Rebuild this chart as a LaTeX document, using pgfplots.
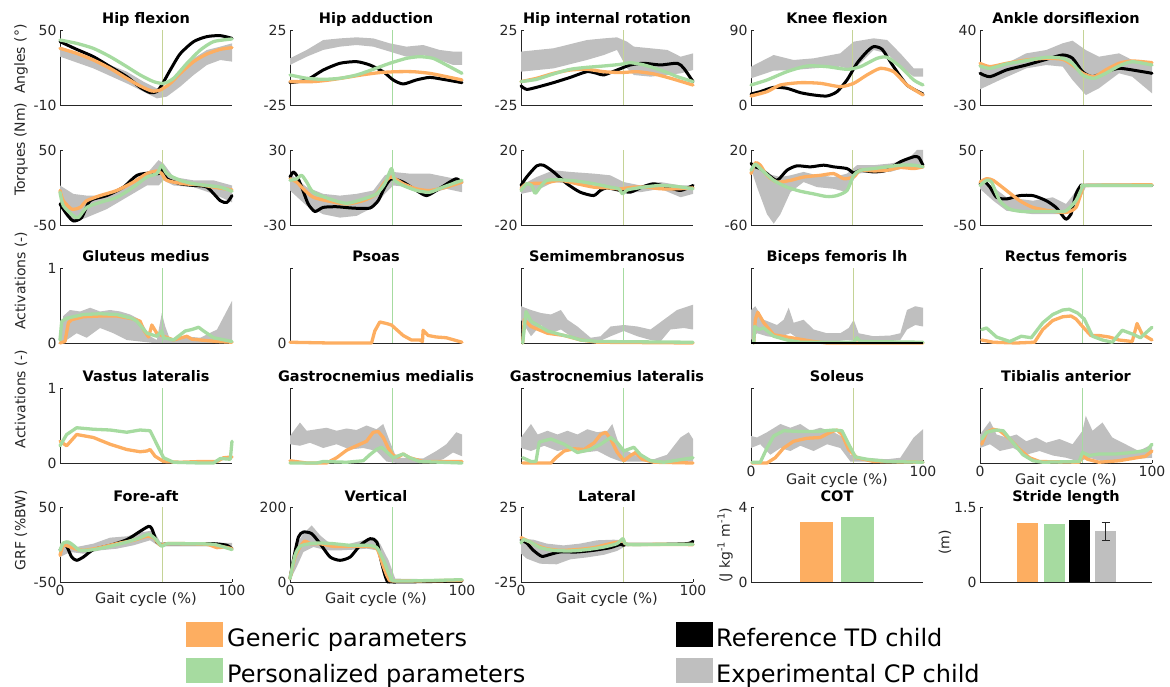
\documentclass[border=0pt]{standalone}
\usepackage{fontspec}
\setmainfont{DejaVu Sans}
\usepackage{pgfplots}
\pgfplotsset{compat=1.18}
\definecolor{cor}{RGB}{253,174,97}
\definecolor{cgr}{RGB}{166,219,160}
\definecolor{cgy}{RGB}{191,191,191}
\definecolor{axc}{RGB}{38,38,38}
\definecolor{tol}{RGB}{196,211,150}
\newcommand{\tlf}{\fontsize{14}{16}\selectfont}
\newcommand{\ttf}{\fontsize{14.5}{17}\selectfont\bfseries}
\pgfplotsset{
 pan/.style={scale only axis, width=172pt, height=75pt, xmin=0, xmax=100,
   axis lines=left, axis line style={-, draw=axc, line width=0.7pt}, clip=false,
   tick align=inside, major tick length=3pt, tick style={draw=axc, line width=0.7pt},
   xtick=\empty, tick label style={font=\tlf, text=axc},
   /pgf/number format/assume math mode=true,
   title style={at={(axis description cs:0.5,1)}, anchor=base, yshift=0pt, font=\ttf},
   ylabel style={font=\tlf, text=axc, anchor=center}},
 bot/.style={xtick={0,100}, xlabel={Gait cycle (\%)},
   xlabel style={at={(axis description cs:0.5,0)}, anchor=north, yshift=-7pt, font=\fontsize{14.5}{17}\selectfont, text=axc}},
 blk/.style={black, line width=3pt, line join=round, line cap=round},
 org/.style={cor, line width=3.3pt, line join=round, line cap=round},
 grn/.style={cgr, line width=3.3pt, line join=round, line cap=round},
 sm/.style={smooth, tension=0.4},
 band/.style={fill=cgy, draw=none},
 vl/.style={tol, line width=1.4pt},
 vg/.style={cgr, line width=1.4pt},
}
\begin{document}
\begin{tikzpicture}[x=1pt,y=1pt]
\useasboundingbox (0,0) rectangle (1170,686);
% ===== Row 1 =====
\begin{axis}[pan, at={(60pt,656pt)}, anchor=north west, ymin=-10, ymax=50, ytick={-10,50}, title={Hip flexion},
  ylabel={Angles (°)}, ylabel style={at={(axis description cs:-0.227,0.61)}}]
\addplot[band] coordinates {(0,36.7)(19.4,27.3)(38.8,16.7)(48.5,8.7)(56.3,3.3)(62.1,5.2)(69.9,18)(77.7,27.3)(85.4,34)(93.2,36.7)(100,39.3)(100,24.7)(93.2,26)(85.4,22)(77.7,14)(69.9,4.7)(62.1,-3.3)(56.3,-4.7)(48.5,0.7)(38.8,7.3)(19.4,19.3)(0,28.7)};
\addplot[vl] coordinates {(59.5,-10)(59.5,50)};
\addplot[blk,sm] coordinates {(0,40.7)(9.7,34.5)(19.4,28.7)(29.1,20.7)(38.8,12.7)(46.6,4.1)(52.4,-0.1)(56.3,0.7)(59.2,6)(64.1,18)(69.9,31)(77.7,40.7)(85.4,44.7)(93.2,45.5)(100,43.3)};
\addplot[org,sm] coordinates {(0,35.3)(9.7,31.3)(19.4,26)(29.1,19.3)(38.8,11.3)(46.6,5.2)(53.4,1.2)(58.3,2)(64.1,7.3)(69.9,15.3)(77.7,24.7)(85.4,30.8)(93.2,34.5)(100,35.9)};
\addplot[grn,sm] coordinates {(0,42)(9.7,39.3)(19.4,35.3)(29.1,28.7)(38.8,20.7)(46.6,14)(54.4,8.7)(60.2,7.3)(66,11.3)(73.8,23.3)(81.6,34)(89.3,40.7)(100,42.8)};
\end{axis}
\begin{axis}[pan, at={(290pt,656pt)}, anchor=north west, ymin=-25, ymax=25, ytick={-25,25}, title={Hip adduction}]
\addplot[band] coordinates {(0,6.1)(9.7,11.7)(19.3,18.3)(29,19.4)(38.7,20.1)(48.4,19.4)(58,16.1)(67.7,13.9)(77.4,15)(87,11.7)(94.8,10.6)(100,10.6)(100,1.7)(94.8,1.7)(87,5)(77.4,8.3)(67.7,7.2)(58,10.6)(48.4,13.9)(38.7,15)(29,13.9)(19.3,11.7)(9.7,7.2)(0,1.7)};
\addplot[vg] coordinates {(59.5,-25)(59.5,25)};
\addplot[blk,sm] coordinates {(0,-10.1)(9.7,-8.3)(19.3,-1.7)(29,2.8)(38.7,3.9)(46.4,1.7)(54.2,-2.8)(60,-8.3)(65.8,-11)(73.5,-8.3)(81.2,-6.6)(89,-7.9)(100,-10.1)};
\addplot[org,sm] coordinates {(0,-9.4)(13.5,-9.4)(23.2,-8.3)(32.9,-6.6)(42.6,-4.8)(52.2,-3.4)(61.9,-2.8)(71.6,-2.8)(81.2,-3.9)(90.9,-6.1)(100,-8.3)};
\addplot[grn,sm] coordinates {(0,-5)(9.7,-7.2)(19.3,-7.9)(29,-7.2)(38.7,-5)(48.4,-1.2)(58,2.8)(67.7,6.1)(75.4,7.2)(83.2,6.1)(90.9,1.7)(100,-3.9)};
\end{axis}
\begin{axis}[pan, at={(521pt,656pt)}, anchor=north west, ymin=-25, ymax=25, ytick={-25,25}, title={Hip internal rotation}]
\addplot[band] coordinates {(0,10.6)(18.9,12.8)(38.3,18.3)(48.1,19.4)(55.8,20.1)(61.7,17.2)(65.6,13.9)(75.3,12.8)(85,11.7)(92.8,7.2)(100,9.4)(100,-1.7)(92.8,-3.9)(85,-5)(75.3,-6.1)(65.6,-5)(61.7,-0.6)(55.8,11.7)(48.1,8.3)(38.3,5)(18.9,-0.6)(0,-2.8)};
\addplot[vl] coordinates {(59.5,-25)(59.5,25)};
\addplot[blk,sm] coordinates {(0,-12.3)(3.3,-14.6)(9.1,-13.2)(18.9,-10.1)(28.6,-6.6)(38.3,-2.8)(44.2,-3.9)(48.1,-5)(55.8,-1.7)(63.6,1.7)(71.4,2.8)(81.1,1.7)(90.9,2.8)(94.7,-0.6)(100,-9.4)};
\addplot[org,sm] coordinates {(0,-9.4)(9.1,-7.2)(18.9,-3.9)(28.6,-1.7)(38.3,-1.2)(48.1,-2.8)(57.8,-3.4)(67.5,-2.8)(77.2,-4.3)(87,-7.2)(100,-11.7)};
\addplot[grn,sm] coordinates {(0,-9.4)(9.1,-7.9)(18.9,-4.3)(28.6,-1.2)(38.3,0.1)(48.1,1)(57.8,2.1)(63.6,3.2)(71.4,1.7)(81.1,-1.7)(90.9,-6.1)(100,-9.4)};
\end{axis}
\begin{axis}[pan, at={(751pt,656pt)}, anchor=north west, ymin=0, ymax=90, ytick={0,90}, title={Knee flexion}]
\addplot[band] coordinates {(0,46)(13.2,60)(24.8,54)(36.4,56)(51.9,62)(59.7,76)(71.3,80)(79.1,78)(86.8,62)(94.6,44)(100,44)(100,34)(94.6,34)(86.8,46)(79.1,62)(71.3,66)(59.7,42)(51.9,46)(36.4,44)(24.8,42)(13.2,41.2)(0,32)};
\addplot[vl] coordinates {(59.1,0)(59.1,90)};
\addplot[blk,sm] coordinates {(0,13.2)(5.4,16)(13.2,21.2)(20.9,20)(28.7,14.8)(36.4,12)(44.2,10.8)(50,16)(55.8,30)(61.6,50)(67.4,64)(71.3,70)(76.2,66.8)(82.9,46)(90.7,24)(100,13.2)};
\addplot[org,sm] coordinates {(0,10.8)(9.3,16)(17.1,24)(28.7,26.8)(40.3,26)(51.9,22)(59.7,26)(67.4,36)(75.2,44)(82.9,40)(90.7,24)(100,12)};
\addplot[grn,sm] coordinates {(0,24)(9.3,30)(20.9,40)(32.6,46.8)(44.2,46)(55.8,42.8)(63.6,46)(73.3,56)(79.1,57.2)(86.8,46)(94.6,30)(100,24)};
\end{axis}
\begin{axis}[pan, at={(980pt,656pt)}, anchor=north west, ymin=-30, ymax=40, ytick={-30,40}, title={Ankle dorsiflexion}]
\addplot[band] coordinates {(0,5.8)(11.5,5.8)(26.9,18.2)(38.5,21.3)(48.1,27.6)(53.8,30)(61.5,21.3)(69.2,15.1)(80.8,18.2)(88.5,12)(100,10.4)(100,-19.1)(88.5,-3.6)(80.8,-0.4)(69.2,-14.4)(61.5,-20.7)(53.8,-6.7)(48.1,5.8)(38.5,7.3)(26.9,4.2)(11.5,-6.7)(0,-15.4)};
\addplot[vl] coordinates {(60,-30)(60,40)};
\addplot[blk,sm] coordinates {(0,-0.4)(5.8,-3.6)(15.4,2.7)(26.9,7.3)(38.5,12.6)(48.1,16.7)(53.8,13.6)(59.6,1.1)(65.4,-3.6)(73.1,1.1)(80.8,4.2)(88.5,2.7)(100,-0.4)};
\addplot[org,sm] coordinates {(0,8.9)(5.8,5.8)(15.4,8.9)(26.9,12)(38.5,13.6)(48.1,12.6)(53.8,7.3)(59.6,-0.4)(66.3,-3.6)(73.1,2.7)(80.8,8.9)(88.5,11.1)(100,9.5)};
\addplot[grn,sm] coordinates {(0,6.4)(5.8,4.2)(15.4,8.3)(26.9,11.4)(38.5,14.5)(48.1,13.6)(53.8,8.9)(59.6,-2)(66.3,-5.1)(73.1,-0.4)(80.8,6.4)(88.5,10.4)(100,7.3)};
\end{axis}
% ===== Row 2 =====
\begin{axis}[pan, at={(60pt,536pt)}, anchor=north west, ymin=-50, ymax=50, ytick={-50,50},
  ylabel={Torques (Nm)}, ylabel style={at={(axis description cs:-0.227,1.01)}}]
\addplot[band] coordinates {(0,2.7)(7.8,-8.6)(15.5,-10.8)(27.2,-10.8)(38.8,0.5)(50.5,18.5)(57.3,36.5)(60.2,32)(66,14)(77.7,9.5)(89.3,9.5)(100,2.7)(100,-19.8)(89.3,-8.6)(77.7,0.5)(66,2.7)(60.2,9.5)(57.3,2.7)(50.5,2.7)(38.8,-13.1)(27.2,-28.8)(15.5,-40)(7.8,-46.8)(0,-17.6)};
\addplot[vl] coordinates {(59.5,-50)(59.5,50)};
\addplot[blk,sm] coordinates {(0,-22)(3.9,-35.6)(7.8,-44.6)(12.6,-40)(17.5,-17.6)(27.2,-10.8)(36.9,0.5)(44.7,16.2)(52.4,19.4)(57.3,18.5)(59.2,25.2)(62.1,11.7)(69.9,5)(77.7,2.7)(85.4,0.5)(93.2,-17.6)(97.1,-19.8)(100,-10.8)};
\addplot[org,sm] coordinates {(0,-4)(1.9,-17.6)(6.8,-28.8)(11.7,-26.6)(15.5,-17.6)(23.3,-10.8)(33,-4)(42.7,7.2)(50.5,18.5)(56.3,22)(59.2,18.5)(62.1,9.5)(71.8,5)(81.6,3.6)(89.3,0.5)(100,-3.2)};
\addplot[grn,sm] coordinates {(0,-6.3)(1.9,-24.3)(7.8,-37.8)(10.7,-40)(15.5,-26.6)(23.3,-19.8)(33,-13.1)(42.7,0.5)(50.5,14)(56.3,18.5)(59.2,29.7)(62.1,18.5)(69.9,9.5)(77.7,5)(85.4,2.7)(93.2,0.5)(100,-5)};
\end{axis}
\begin{axis}[pan, at={(290pt,536pt)}, anchor=north west, ymin=-30, ymax=30, ytick={-30,30}]
\addplot[band] coordinates {(0,11.1)(9.7,0.3)(19.3,-5.1)(29,-6.5)(38.7,-5.1)(48.4,-2.4)(55.1,9.7)(60,12.4)(69.6,11.1)(81.2,11.1)(90.9,8.4)(100,5.7)(100,-3.8)(90.9,-1.1)(81.2,-5.1)(69.6,0.3)(60,1.6)(55.1,-5.1)(48.4,-15.9)(38.7,-22.7)(29,-24.1)(19.3,-21.4)(9.7,-14.6)(0,-2.4)};
\addplot[vg] coordinates {(59.5,-30)(59.5,30)};
\addplot[blk,sm] coordinates {(0,8.4)(1.9,12.4)(3.9,9.7)(6.8,0.3)(10.6,-13.2)(14.5,-19.2)(19.3,-15.9)(27.1,-15.4)(36.8,-16.5)(46.4,-16.5)(51.3,-10.5)(55.1,0.3)(59,7)(65.8,4.3)(73.5,-2.4)(79.3,-6.5)(85.1,-2.4)(92.8,4.3)(96.7,7)(100,4.3)};
\addplot[org,sm] coordinates {(0,7)(3.9,4.3)(7.7,-1.1)(13.5,-7.8)(23.2,-11.1)(32.9,-13.2)(42.6,-10.5)(50.3,-5.1)(55.1,4.3)(59,8.4)(65.8,3)(73.5,-1.1)(81.2,-2.4)(90.9,0.3)(100,4.3)};
\addplot[grn,sm] coordinates {(0,5.7)(3.9,7)(6.8,9.7)(9.7,4.3)(13.5,-3.8)(23.2,-9.2)(32.9,-12.7)(42.6,-9.2)(50.3,-5.1)(55.1,3)(59,15.1)(60.9,5.7)(65.8,1.6)(73.5,-2.4)(81.2,-3.8)(89,0.3)(100,5.7)};
\end{axis}
\begin{axis}[pan, at={(521pt,536pt)}, anchor=north west, ymin=-20, ymax=20, ytick={-20,20}]
\addplot[band] coordinates {(0,1.1)(9.1,5.6)(18.9,9.2)(28.6,8.3)(42.2,7.4)(51.9,6.5)(59.7,2.9)(69.5,1.1)(81.1,2.9)(92.8,1.1)(100,1.1)(100,-3.4)(92.8,-5.2)(81.1,-0.7)(69.5,-2.5)(59.7,-2.5)(51.9,0.2)(42.2,1.1)(28.6,2)(18.9,2.9)(9.1,-1.6)(0,-3.4)};
\addplot[vl] coordinates {(59.5,-20)(59.5,20)};
\addplot[blk,sm] coordinates {(0,1.1)(3.3,5.6)(9.1,11.5)(13,11.9)(18.9,8.3)(26.7,2)(34.4,-2.5)(42.2,-4.3)(46.1,-1.6)(50,-0.2)(57.8,-1.6)(63.6,-2.5)(70.4,0.2)(77.2,2)(85,0.2)(92.8,-1.6)(100,1.1)};
\addplot[org,sm] coordinates {(0,-0.7)(3.3,2)(13,2.3)(22.8,3.8)(32.5,2)(42.2,0.2)(50,-0.2)(57.8,-0.7)(65.6,0.2)(73.3,0.2)(81.1,-0.7)(90.9,-0.7)(100,-0.2)};
\addplot[grn,sm] coordinates {(0,-1.6)(3.3,2)(6.2,1.1)(8.2,-3.1)(11.1,0.2)(15,3.8)(22.8,4.1)(32.5,3.4)(42.2,2)(51.9,0.2)(56.8,-0.7)(59.1,-3.4)(61.7,-1.3)(71.4,0.2)(81.1,1.1)(90.9,0.5)(100,-0.7)};
\end{axis}
\begin{axis}[pan, at={(751pt,536pt)}, anchor=north west, ymin=-60, ymax=20, ytick={-60,20}]
\addplot[band] coordinates {(0,5.6)(3.5,2)(9.3,-5.2)(13.2,-7)(17.1,-8.8)(22.9,-7)(30.6,-3.4)(38.4,-7)(48.1,-8.8)(55.8,-5.2)(61.6,3.8)(71.3,3.8)(81,5.6)(90.7,9.2)(96.5,20)(100,20)(100,0.2)(96.5,2)(90.7,2)(81,-3.4)(71.3,-3.4)(61.6,-5.2)(55.8,-25)(48.1,-21.4)(38.4,-19.6)(30.6,-14.2)(22.9,-25)(17.1,-48.5)(13.2,-58.6)(9.3,-48.5)(3.5,-19.6)(0,0.2)};
\addplot[vl] coordinates {(59.1,-60)(59.1,20)};
\addplot[blk,sm] coordinates {(0,5.6)(2.5,2)(5.4,0.2)(9.3,-5.2)(15.1,-12.4)(20.9,-1.6)(26.7,3.1)(34.5,2)(42.2,3.8)(48.1,2)(55.8,0.2)(59.7,-4.5)(63.6,-1.6)(71.3,-3.4)(79.1,-1.6)(86.8,7.4)(94.6,12.8)(97.5,12.1)(100,3.8)};
\addplot[org,sm] coordinates {(0,-5.2)(2.5,6.3)(5.4,3.8)(9.3,-7)(15.1,-14.2)(22.9,-12.4)(30.6,-8.8)(40.3,-7)(48.1,-5.2)(53.9,-10.6)(59.7,-8.8)(63.6,-1.6)(71.3,-2.3)(79.1,-1.6)(86.8,1.3)(94.6,0.2)(100,2)};
\addplot[grn,sm] coordinates {(0,-1.6)(2.5,4.9)(5.4,0.2)(13.2,-12.4)(20.9,-19.6)(28.7,-24)(36.4,-26.8)(44.2,-29.7)(50,-28.6)(55.8,-23.2)(59.7,-7)(63.6,-1.6)(71.3,0.2)(79.1,2)(86.8,3.8)(94.6,3.8)(100,2)};
\end{axis}
\begin{axis}[pan, at={(980pt,536pt)}, anchor=north west, ymin=-50, ymax=50, ytick={-50,50}]
\addplot[band] coordinates {(0,7.2)(7.7,0.5)(15.4,-13.1)(30.8,-17.6)(42.3,-13.1)(50,-22)(57.7,0.5)(61.5,5)(100,5)(100,0.5)(61.5,0.5)(57.7,-17.6)(50,-35.6)(42.3,-35.6)(30.8,-35.6)(15.4,-31)(7.7,-17.6)(0,-1.8)};
\addplot[vl] coordinates {(60,-50)(60,50)};
\addplot[blk,sm] coordinates {(0,5)(2.9,7.2)(5.8,0.5)(9.6,-13.1)(15.4,-15.3)(23.1,-10.8)(30.8,-10.8)(38.5,-17.6)(44.2,-26.6)(48.1,-37.8)(50,-42.3)(52.9,-35.6)(55.8,-8.6)(58.7,2.7)(61.5,2.7)(100,2.7)};
\addplot[org,sm] coordinates {(0,7.2)(3.8,11.7)(7.7,9.5)(15.4,-4)(23.1,-17.6)(30.8,-26.6)(40.4,-31)(50,-33.3)(55.8,-26.6)(59.6,-1.8)(61.5,2.7)(100,3.6)};
\addplot[grn,sm] coordinates {(0,2.7)(3.8,9.5)(6.7,7.2)(11.5,-17.6)(17.3,-28.8)(25,-32)(34.6,-32)(44.2,-32)(50,-31)(55.8,-17.6)(59.6,0.5)(61.5,2.7)(100,2.7)};
\end{axis}
% ===== Row 3 =====
\begin{axis}[pan, at={(60pt,418pt)}, anchor=north west, ymin=0, ymax=1, ytick={0,1}, title={Gluteus medius},
  ylabel={Activations (-)}, ylabel style={at={(axis description cs:-0.227,0.83)}}]
\addplot[band] coordinates {(0,0.05)(1.9,0.36)(5.8,0.44)(11.7,0.42)(17.5,0.47)(23.3,0.42)(29.1,0.44)(35,0.42)(40.8,0.38)(46.6,0.31)(52.4,0.09)(56.3,0.04)(59.2,0.4)(61.2,0.22)(64.1,0.04)(71.8,0.09)(81.6,0.07)(91.3,0.18)(100,0.56)(100,0)(54.4,0)(46.6,0.02)(38.8,0.04)(31.1,0.13)(23.3,0.2)(15.5,0.07)(9.7,0.13)(3.9,0.04)(0,0)};
\addplot[vg] coordinates {(59.5,0)(59.5,1)};
\addplot[org] coordinates {(0,0)(2.9,0.02)(4.9,0.27)(6.8,0.31)(13.6,0.35)(23.3,0.36)(33,0.36)(42.7,0.32)(46.6,0.29)(48.5,0.18)(51.5,0.08)(53.4,0.24)(56.3,0.13)(60.2,0.09)(66,0.04)(73.8,0.09)(76.7,0.05)(81.6,0.04)(91.3,0.02)(100,0.01)};
\addplot[grn] coordinates {(0,0.04)(1,0.29)(3.9,0.33)(13.6,0.38)(23.3,0.39)(33,0.38)(41.7,0.33)(44.7,0.29)(50.5,0.13)(56.3,0.09)(59.2,0.16)(60.2,0.07)(66,0.04)(72.8,0.16)(76.7,0.18)(80.6,0.21)(83.5,0.16)(89.3,0.07)(100,0.02)};
\end{axis}
\begin{axis}[pan, at={(290pt,418pt)}, anchor=north west, ymin=0, ymax=1, ytick={0,1}, yticklabels={0,{}}, title={Psoas}]
\addplot[vg] coordinates {(59.5,0)(59.5,1)};
\addplot[org] coordinates {(0,0.01)(23.2,0)(47.4,0)(49.3,0.16)(52.2,0.28)(56.1,0.26)(59,0.24)(61.9,0.18)(65.8,0.1)(70.6,0.04)(75.4,0.04)(77,0.02)(77.4,0.17)(80.3,0.1)(85.1,0.08)(90.9,0.07)(100,0.01)};
\end{axis}
\begin{axis}[pan, at={(521pt,418pt)}, anchor=north west, ymin=0, ymax=1, ytick={0,1}, yticklabels={}, title={Semimembranosus}]
\addplot[band] coordinates {(0,0.49)(5.8,0.44)(11.6,0.4)(17.4,0.38)(23.2,0.44)(27,0.31)(32.8,0.22)(40.5,0.07)(46.3,0.09)(52.1,0.22)(59.8,0.24)(67.6,0.22)(75.3,0.18)(83,0.31)(90.7,0.44)(100,0.51)(100,0.18)(94.6,0.2)(86.9,0.18)(81.1,0.02)(75.3,0.04)(67.6,0.09)(59.8,0.16)(52.1,0.09)(44.4,0.01)(36.7,0.02)(29,0.09)(23.2,0.18)(17.4,0.13)(11.6,0.24)(5.8,0.09)(0,0.31)};
\addplot[vg] coordinates {(59.5,0)(59.5,1)};
\addplot[org] coordinates {(1,0)(1.9,0.31)(5.8,0.22)(15.4,0.13)(25.1,0.1)(34.7,0.04)(44.4,0.01)(100,0)};
\addplot[grn] coordinates {(1,0)(2.9,0.42)(5.8,0.29)(15.4,0.16)(25.1,0.1)(29,0.08)(34.7,0.04)(44.4,0.02)(100,0.01)};
\end{axis}
\begin{axis}[pan, at={(751pt,418pt)}, anchor=north west, ymin=0, ymax=1, ytick={0,1}, yticklabels={}, title={Biceps femoris lh}]
\addplot[band] coordinates {(0,0.44)(2.5,0.49)(7.4,0.31)(15.1,0.24)(19,0.31)(21.9,0.47)(24.8,0.27)(30.6,0.31)(36.4,0.18)(44.2,0.13)(51.9,0.13)(56.8,0.2)(59.7,0.31)(62.6,0.13)(71.3,0.09)(81,0.1)(86.8,0.13)(90.7,0.44)(95.5,0.49)(100,0.47)(100,0.22)(95.5,0.24)(90.7,0.18)(86.8,0.04)(79.1,0.02)(63.6,0.02)(55.8,0.04)(48.1,0.02)(38.4,0.01)(28.7,0.04)(22.9,0.13)(15.1,0.07)(9.3,0.09)(3.5,0.13)(0,0.04)};
\addplot[vl] coordinates {(59.5,0)(59.5,1)};
\addplot[org] coordinates {(1.6,0)(2.5,0.31)(3.9,0.41)(7.4,0.27)(13.2,0.11)(20.9,0.08)(28.7,0.05)(36.4,0.02)(44.2,0)(100,0)};
\addplot[grn] coordinates {(1.6,0)(2.1,0.22)(4.5,0.18)(7.4,0.2)(13.2,0.09)(20.9,0.04)(28.7,0.01)(59.7,0.01)(61.6,0.07)(63.6,0.02)(100,0.01)};
\addplot[black, line width=1.2pt] coordinates {(0,0)(100,0)};
\end{axis}
\begin{axis}[pan, at={(980pt,418pt)}, anchor=north west, ymin=0, ymax=1, ytick={0,1}, yticklabels={}, title={Rectus femoris}]
\addplot[vg] coordinates {(59.5,0)(59.5,1)};
\addplot[org] coordinates {(1,0.04)(7.7,0.01)(21.2,0)(31.7,0.01)(36.5,0.18)(42.3,0.3)(48.1,0.35)(52.9,0.36)(55.8,0.32)(59.6,0.22)(64.4,0.1)(69.2,0.1)(75,0.08)(80.8,0.04)(88.5,0.02)(91.3,0.26)(94.2,0.12)(100,0.04)};
\addplot[grn] coordinates {(1,0.18)(3.8,0.2)(9.6,0.08)(17.3,0.02)(24,0.09)(29.8,0.07)(36.5,0.27)(42.3,0.38)(48.1,0.44)(51.9,0.45)(56.7,0.4)(60.6,0.32)(65.4,0.09)(71.2,0.04)(76.9,0.01)(82.7,0.17)(88.5,0.12)(93.3,0.07)(100,0.21)};
\end{axis}
% ===== Row 4 =====
\begin{axis}[pan, at={(60pt,298pt)}, anchor=north west, ymin=0, ymax=1, ytick={0,1}, title={Vastus lateralis},
  ylabel={Activations (-)}, ylabel style={at={(axis description cs:-0.227,0.85)}}]
\addplot[vg] coordinates {(59.5,0)(59.5,1)};
\addplot[org] coordinates {(0,0.29)(3.9,0.23)(9.7,0.38)(19.4,0.34)(29.1,0.25)(38.8,0.18)(46.6,0.15)(50.5,0.16)(52.4,0.18)(55.3,0.09)(60.2,0.02)(69.9,0.01)(81.6,0.02)(91.3,0.02)(95.1,0.07)(100,0.08)};
\addplot[grn] coordinates {(0,0.23)(3.9,0.38)(9.7,0.47)(19.4,0.45)(29.1,0.44)(38.8,0.41)(46.6,0.44)(52.4,0.43)(56.3,0.25)(60.2,0.07)(66,0.01)(81.6,0)(89.3,0)(93.2,0.06)(99,0.05)(100,0.29)};
\end{axis}
\begin{axis}[pan, at={(290pt,298pt)}, anchor=north west, ymin=0, ymax=1, ytick={0,1}, yticklabels={}, title={Gastrocnemius medialis}]
\addplot[band] coordinates {(0,0.36)(5.8,0.54)(9.7,0.43)(15.5,0.45)(21.3,0.47)(27.1,0.43)(32.9,0.46)(38.7,0.44)(44.5,0.5)(50.3,0.45)(54.2,0.52)(58,0.29)(61.9,0.07)(69.6,0.07)(77.4,0.06)(85.1,0.16)(90.9,0.25)(96.7,0.41)(100,0.38)(100,0.09)(94.8,0.14)(89,0.05)(81.2,0)(61.9,0)(56.1,0.02)(50.3,0.16)(42.6,0.2)(34.8,0.18)(27.1,0.25)(19.3,0.2)(11.6,0.27)(5.8,0.23)(0,0.25)};
\addplot[vg] coordinates {(59.5,0)(59.5,1)};
\addplot[org] coordinates {(0,0.03)(9.7,0)(21.3,0)(27.1,0.07)(32.9,0.17)(38.7,0.23)(44.5,0.29)(48.4,0.41)(51.3,0.42)(54.2,0.34)(57.1,0.2)(60,0.1)(62.9,0.08)(65.8,0.12)(69.6,0.07)(77.4,0.02)(100,0.02)};
\addplot[grn] coordinates {(0,0)(15.5,0)(19.3,0.02)(32.9,0.01)(42.6,0.03)(46.4,0.11)(50.3,0.18)(53.2,0.21)(56.1,0.15)(60,0.07)(65.8,0.12)(69.6,0.07)(75.4,0.02)(100,0)};
\end{axis}
\begin{axis}[pan, at={(521pt,298pt)}, anchor=north west, ymin=0, ymax=1, ytick={0,1}, yticklabels={}, title={Gastrocnemius lateralis}]
\addplot[band] coordinates {(0,0.34)(5.8,0.52)(9.7,0.38)(15.4,0.43)(21.2,0.38)(27,0.43)(32.8,0.38)(38.6,0.45)(44.4,0.41)(50.2,0.43)(53.1,0.52)(56.9,0.25)(61.8,0.16)(69.5,0.07)(77.2,0.05)(84.9,0.11)(92.7,0.34)(97.5,0.41)(100,0.32)(100,0.02)(57.9,0.02)(52.1,0.07)(44.4,0.16)(36.7,0.14)(29,0.2)(21.2,0.16)(13.5,0.23)(5.8,0.16)(0,0.2)};
\addplot[vg] coordinates {(59.5,0)(59.5,1)};
\addplot[org] coordinates {(1,0)(17.4,0)(20.3,0.07)(25.1,0.16)(30.9,0.19)(36.7,0.18)(42.5,0.27)(46.3,0.38)(49.2,0.41)(52.1,0.32)(56,0.14)(59.8,0.03)(63.7,0.1)(66.6,0.14)(70.5,0.05)(77.2,0.01)(100,0)};
\addplot[grn] coordinates {(1,0.07)(5.8,0.02)(8.7,0.02)(10.6,0.28)(17.4,0.32)(25.1,0.25)(32.8,0.14)(40.5,0.18)(46.3,0.25)(52.1,0.34)(56,0.27)(59.8,0.16)(65.6,0.21)(69.5,0.11)(75.3,0.03)(83,0.01)(100,0.07)};
\end{axis}
\begin{axis}[pan, bot, at={(751pt,298pt)}, anchor=north west, ymin=0, ymax=1, ytick={0,1}, yticklabels={}, title={Soleus}]
\addplot[band] coordinates {(0,0.36)(3.5,0.34)(9.3,0.41)(17.1,0.52)(22.9,0.47)(28.7,0.52)(34.5,0.43)(40.3,0.47)(48.1,0.41)(53.9,0.34)(57.8,0.11)(63.6,0.07)(79.1,0.05)(86.8,0.07)(94.6,0.34)(100,0.45)(100,0.01)(57.8,0.02)(51.9,0.2)(44.2,0.25)(36.4,0.16)(28.7,0.23)(22.9,0.16)(17.1,0.2)(11.2,0.11)(5.4,0.25)(0,0.2)};
\addplot[vl] coordinates {(59.5,0)(59.5,1)};
\addplot[org] coordinates {(0.6,0)(9.3,0)(14.1,0.07)(19,0.2)(24.8,0.29)(32.6,0.33)(40.3,0.34)(46.1,0.41)(50,0.44)(52.9,0.38)(56.8,0.18)(61.6,0.07)(71.3,0.02)(100,0.01)};
\addplot[grn] coordinates {(0.6,0.01)(5.4,0.01)(9.3,0.2)(13.2,0.36)(19,0.43)(28.7,0.42)(38.4,0.42)(48.1,0.44)(52.9,0.43)(56.8,0.25)(60.7,0.08)(67.4,0.05)(79.1,0.02)(100,0.01)};
\end{axis}
\begin{axis}[pan, bot, at={(980pt,298pt)}, anchor=north west, ymin=0, ymax=1, ytick={0,1}, yticklabels={}, title={Tibialis anterior}]
\addplot[band] coordinates {(0,0.38)(5.8,0.56)(9.6,0.38)(15.4,0.34)(21.2,0.38)(26.9,0.29)(32.7,0.34)(38.5,0.27)(46.2,0.32)(53.8,0.25)(59.6,0.43)(61.5,0.63)(65.4,0.43)(71.2,0.54)(76.9,0.34)(84.6,0.25)(92.3,0.16)(100,0.25)(100,0.07)(88.5,0.05)(80.8,0.02)(71.2,0.02)(63.5,0.07)(57.7,0.02)(50,0.07)(42.3,0.1)(34.6,0.16)(26.9,0.11)(19.2,0.2)(11.5,0.16)(5.8,0.25)(0,0.2)};
\addplot[vg] coordinates {(59.5,0)(59.5,1)};
\addplot[org] coordinates {(1,0.25)(3.8,0.41)(7.7,0.45)(11.5,0.43)(17.3,0.32)(23.1,0.18)(28.8,0.07)(34.6,0.02)(57.7,0.01)(59.6,0.1)(62.5,0.05)(69.2,0.01)(80.8,0.03)(88.5,0.06)(96.2,0.09)(100,0.16)};
\addplot[grn] coordinates {(1,0.32)(3.8,0.41)(9.6,0.44)(13.5,0.43)(19.2,0.27)(25,0.11)(30.8,0.03)(36.5,0.01)(57.7,0.02)(59.6,0.14)(63.5,0.1)(69.2,0.12)(78.8,0.12)(88.5,0.14)(97.1,0.17)(100,0.25)};
\end{axis}
% ===== Row 5 =====
\begin{axis}[pan, bot, at={(60pt,179pt)}, anchor=north west, ymin=-50, ymax=50, ytick={-50,50}, title={Fore-aft},
  ylabel={GRF (\%BW)}, ylabel style={at={(axis description cs:-0.227,0.69)}}]
\addplot[band] coordinates {(0,1.1)(3.9,5.6)(9.7,-3.3)(19.4,1.1)(29.1,9.1)(38.8,10.9)(48.5,16.7)(54.4,18.9)(58.3,3.3)(62.1,3.3)(100,2)(100,-2.4)(62.1,-2.4)(58.3,-3.3)(52.4,5.6)(42.7,-1.1)(33,-5.6)(23.3,-7.8)(13.6,-12.2)(5.8,-10)(0,-16.7)};
\addplot[vl] coordinates {(59.5,-50)(59.5,50)};
\addplot[blk,sm] coordinates {(0,-7.8)(1.9,-1.1)(3.9,-2.4)(6.8,-16.7)(9.7,-21.1)(13.6,-16.7)(19.4,-6.9)(29.1,-1.1)(38.8,6.4)(46.6,17.6)(51.5,24.2)(53.4,21.1)(56.3,3.3)(59.2,-1.1)(62.1,1.1)(73.8,1.1)(89.3,1.1)(97.1,-1.1)(100,-5.6)};
\addplot[org,sm] coordinates {(0,-14.4)(1.9,-1.1)(4.9,-2.4)(8.7,-5.6)(13.6,-7.8)(23.3,-4.2)(33,1.1)(42.7,5.6)(50.5,10.9)(54.4,9.1)(58.3,-1.1)(62.1,1.1)(73.8,1.1)(85.4,0.2)(91.3,-4.2)(95.1,-3.3)(100,-5.6)};
\addplot[grn,sm] coordinates {(0,-7.8)(1.9,2)(4.9,3.3)(7.8,-1.1)(11.7,-7.8)(19.4,-6.9)(29.1,-2.4)(38.8,3.3)(46.6,9.1)(51.5,13.6)(55.3,7.8)(59.2,-2.4)(62.1,1.1)(73.8,1.1)(89.3,0.2)(100,-6.9)};
\end{axis}
\begin{axis}[pan, bot, at={(290pt,179pt)}, anchor=north west, ymin=0, ymax=200, ytick={0,200}, title={Vertical}]
\addplot[band] coordinates {(0,22.2)(3.9,102.2)(7.8,128.9)(12.6,151.1)(17.5,124.4)(23.3,102.2)(31.1,97.8)(38.8,106.7)(46.6,115.6)(52.4,102.2)(57.3,57.8)(61.2,8.9)(100,6.2)(100,0)(58.3,0)(54.4,17.8)(50.5,84.4)(44.7,88.9)(36.9,86.2)(29.1,84.4)(21.4,84.4)(13.6,93.3)(7.8,80)(3.9,40)(0,4.4)};
\addplot[vg] coordinates {(59.5,0)(59.5,200)};
\addplot[blk,sm] coordinates {(0,8.9)(1.9,57.8)(4.9,120)(7.8,133.3)(12.6,128.9)(17.5,102.2)(23.3,66.7)(29.1,57.8)(35,66.7)(40.8,97.8)(46.6,115.6)(50.5,106.7)(53.4,48.9)(56.3,4.4)(60.2,0)(100,2.7)};
\addplot[org,sm] coordinates {(0,8.9)(2.9,66.7)(5.8,93.3)(8.7,109.3)(11.7,102.2)(17.5,102.2)(25.2,95.1)(35,95.1)(44.7,95.1)(50.5,88.9)(54.4,40)(57.3,8.9)(61.2,2.7)(100,4.4)};
\addplot[grn,sm] coordinates {(0,8.9)(2.9,71.1)(5.8,95.1)(11.7,102.2)(17.5,104)(25.2,102.2)(35,97.8)(44.7,97.8)(50.5,91.6)(54.4,57.8)(58.3,13.3)(62.1,2.7)(100,6.2)};
\end{axis}
\begin{axis}[pan, bot, at={(521pt,179pt)}, anchor=north west, ymin=-25, ymax=25, ytick={-25,25}, title={Lateral}]
\addplot[band] coordinates {(0,3.9)(7.2,3.2)(15,0.6)(24.7,-0.6)(34.4,0.6)(44.2,2.8)(53.9,3.2)(59.7,2.8)(61.7,0.6)(100,0.6)(100,-0.6)(60.7,-1.2)(55.8,-4.3)(48.1,-6.9)(38.3,-8.6)(28.6,-9.9)(20.8,-13.2)(11.1,-12.8)(3.3,-9.4)(0,-6.1)};
\addplot[vl] coordinates {(59.5,-25)(59.5,25)};
\addplot[blk,sm] coordinates {(0,2.8)(3.3,1)(7.2,-3.9)(12.1,-7.9)(16.9,-6.6)(22.8,-5)(32.5,-5)(42.2,-3.9)(51.9,-2.1)(57.8,0.1)(59.7,-0.6)(61.7,0.1)(81.1,0.1)(96.7,0.6)(100,2.1)};
\addplot[org,sm] coordinates {(0,4.6)(3.3,2.8)(9.1,-0.6)(15,-2.8)(22.8,-3.9)(32.5,-3.4)(42.2,-2.1)(51.9,0.6)(56.8,1.7)(59.7,2.8)(61.7,0.1)(81.1,0.1)(100,-0.1)};
\addplot[grn,sm] coordinates {(0,1)(1.4,3.2)(5.3,1.7)(11.1,-2.1)(18.9,-3.9)(28.6,-4.3)(38.3,-3.4)(48.1,-1.7)(55.8,0.6)(59.3,3.9)(61.7,0.1)(81.1,0.1)(100,0.1)};
\end{axis}
\begin{axis}[pan, at={(751pt,179pt)}, anchor=north west, ymin=0, ymax=4, ytick={0,4}, title={COT},
  ylabel={(J kg\textsuperscript{-1} m\textsuperscript{-1})}, ylabel style={at={(axis description cs:-0.151,0.49)}}]
\addplot[ybar, bar width=33pt, bar shift=0pt, fill=cor, draw=none] coordinates {(37.8,3.2)};
\addplot[ybar, bar width=33pt, bar shift=0pt, fill=cgr, draw=none] coordinates {(62.2,3.47)};
\end{axis}
\begin{axis}[pan, at={(980pt,179pt)}, anchor=north west, ymin=0, ymax=1.5, ytick={0,1.5}, title={Stride length},
  ylabel={(m)}, ylabel style={at={(axis description cs:-0.203,0.53)}}]
\addplot[ybar, bar width=21pt, bar shift=0pt, fill=cor, draw=none] coordinates {(27.5,1.18)};
\addplot[ybar, bar width=21pt, bar shift=0pt, fill=cgr, draw=none] coordinates {(43.1,1.16)};
\addplot[ybar, bar width=21pt, bar shift=0pt, fill=black, draw=none] coordinates {(58.1,1.24)};
\addplot[ybar, bar width=21pt, bar shift=0pt, fill=cgy, draw=none] coordinates {(73.1,1.02)};
\addplot[mark=none, draw=none, error bars/.cd, y dir=both, y explicit,
  error bar style={draw=axc, line width=1pt},
  error mark options={rotate=90, mark size=4pt, draw=axc, line width=1pt}]
  coordinates {(73.1,1.02) += (0,0.18) -= (0,0.2)};
\end{axis}
% ===== Legend =====
\fill[cor] (186,64) rectangle (223,39);
\fill[cgr] (186,28) rectangle (223,3);
\fill[black] (676,64) rectangle (713,39);
\fill[cgy] (676,28) rectangle (713,3);
\node[anchor=base west, inner sep=0, font=\fontsize{24}{28}\selectfont] at (227,40) {Generic parameters};
\node[anchor=base west, inner sep=0, font=\fontsize{24}{28}\selectfont] at (227,4) {Personalized parameters};
\node[anchor=base west, inner sep=0, font=\fontsize{24}{28}\selectfont] at (716,40) {Reference TD child};
\node[anchor=base west, inner sep=0, font=\fontsize{24}{28}\selectfont] at (716,4) {Experimental CP child};
\end{tikzpicture}
\end{document}
